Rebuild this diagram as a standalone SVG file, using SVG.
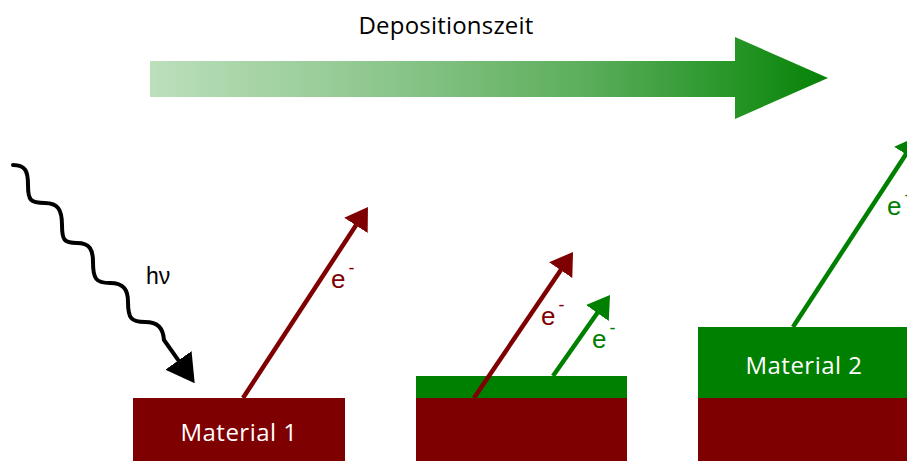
<svg xmlns="http://www.w3.org/2000/svg" width="907" height="461" viewBox="0 0 907 461">
  <style>
    .title { font-family: "Open Sans", "Noto Sans", sans-serif; font-size: 24px; letter-spacing: 0.2px; fill: #000; }
    .mat { font-family: "Open Sans", "Noto Sans", sans-serif; font-size: 24px; letter-spacing: 0.5px; fill: #fff; text-anchor: middle; }
    .hv { font-family: "Liberation Sans", Arial, sans-serif; font-size: 23px; fill: #000; }
    .lbl { font-family: "Liberation Sans", Arial, sans-serif; font-size: 26px; }
    .sup { font-size: 18px; }
    .red { fill: #7f0000; }
    .green { fill: #008000; }
    .ray { fill: none; stroke-width: 4.5; }
  </style>
  <defs>
    <linearGradient id="timeGrad" gradientUnits="userSpaceOnUse" x1="150" y1="0" x2="828" y2="0">
      <stop offset="0" stop-color="#bcdfbc"/>
      <stop offset="0.35" stop-color="#8cc68c"/>
      <stop offset="0.65" stop-color="#5aad5a"/>
      <stop offset="0.88" stop-color="#229322"/>
      <stop offset="1" stop-color="#068206"/>
    </linearGradient>
    <marker id="headRed" markerUnits="userSpaceOnUse" viewBox="0 0 22 28" markerWidth="22" markerHeight="28" refX="10" refY="14" orient="auto">
      <path d="M0,0 L22,14 L0,28 z" fill="#7f0000"/>
    </marker>
    <marker id="headGreen" markerUnits="userSpaceOnUse" viewBox="0 0 22 28" markerWidth="22" markerHeight="28" refX="10" refY="14" orient="auto">
      <path d="M0,0 L22,14 L0,28 z" fill="#008000"/>
    </marker>
    <marker id="headBlack" markerUnits="userSpaceOnUse" viewBox="0 0 28 32" markerWidth="28" markerHeight="32" refX="14" refY="16" orient="auto">
      <path d="M0,0 L28,16 L0,32 z" fill="#000"/>
    </marker>
  </defs>

  <!-- time axis -->
  <g id="time-axis">
    <path d="M150,61 L735,61 L735,37 L828,78 L735,119 L735,97 L150,97 z" fill="url(#timeGrad)"/>
    <text class="title" x="446" y="34" text-anchor="middle">Depositionszeit</text>
  </g>

  <!-- stage 1: bare substrate -->
  <g id="stage1">
    <rect x="133" y="398" width="212" height="63" fill="#7f0000"/>
    <text class="mat" x="239" y="441">Material 1</text>
  </g>

  <!-- stage 2: thin overlayer -->
  <g id="stage2">
    <rect x="416" y="398" width="211" height="63" fill="#7f0000"/>
    <rect x="416" y="376" width="211" height="22" fill="#008000"/>
  </g>

  <!-- stage 3: thick overlayer -->
  <g id="stage3">
    <rect x="698" y="398" width="212" height="63" fill="#7f0000"/>
    <rect x="698" y="327" width="212" height="71" fill="#008000"/>
    <text class="mat" x="804" y="374">Material 2</text>
  </g>

  <!-- photon and photoelectrons -->
  <g id="connectors">
    <path id="photon" d="M13,165 C26,165 28,172 28,185 C28,200 30,203 45,203 C58,203 62,210 62,225 C62,240 64,243 77,243 C90,243 93,250 93,262 C93,279 96,283 110,283 C124,283 128,290 128,302 C128,318 131,322 145,322 C158,322 163,328 164,340 L186.6,371.8" fill="none" stroke="#000" stroke-width="4" stroke-linecap="round" marker-end="url(#headBlack)"/>
    <line id="e1" class="ray" x1="243" y1="398" x2="361.4" y2="217" stroke="#7f0000" marker-end="url(#headRed)"/>
    <line id="e2" class="ray" x1="474" y1="398" x2="566.3" y2="261.9" stroke="#7f0000" marker-end="url(#headRed)"/>
    <line id="e3" class="ray" x1="553" y1="376" x2="603.1" y2="304.8" stroke="#008000" marker-end="url(#headGreen)"/>
    <line id="e4" class="ray" x1="793" y1="327" x2="911.4" y2="146" stroke="#008000" marker-end="url(#headGreen)"/>
  </g>

  <!-- labels -->
  <g id="labels">
    <text class="hv" x="146" y="284">hν</text>
    <text class="lbl red" x="331" y="288">e<tspan class="sup" dx="3" dy="-14">-</tspan></text>
    <text class="lbl red" x="541" y="325">e<tspan class="sup" dx="3" dy="-14">-</tspan></text>
    <text class="lbl green" x="592" y="348">e<tspan class="sup" dx="3" dy="-14">-</tspan></text>
    <text class="lbl green" x="887" y="215">e<tspan class="sup" dx="3" dy="-14">-</tspan></text>
  </g>
</svg>
